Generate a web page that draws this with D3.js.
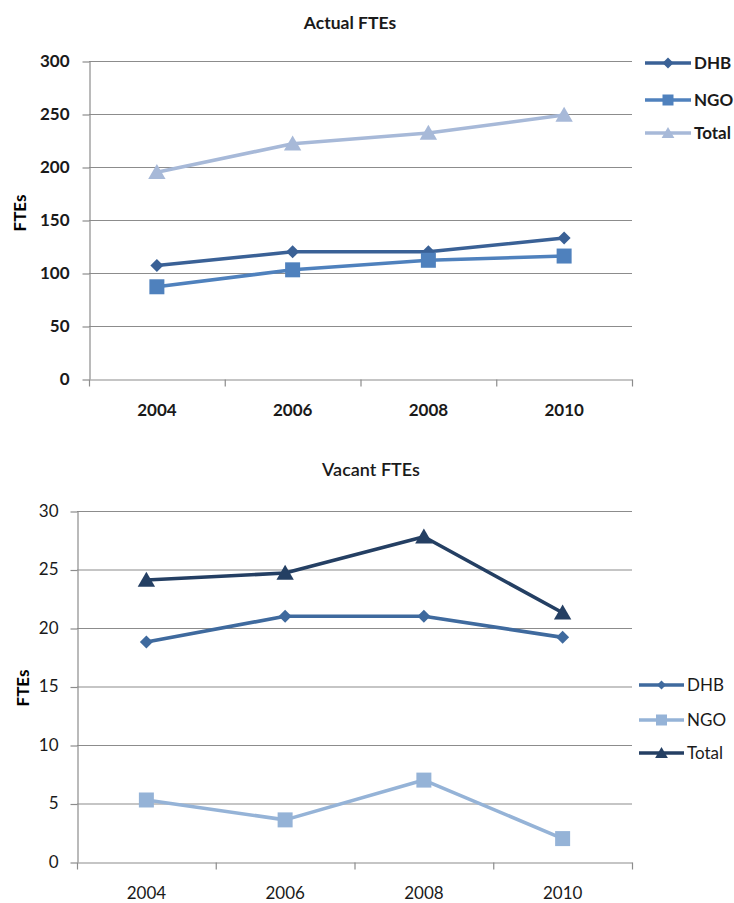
<!DOCTYPE html>
<html>
<head>
<meta charset="utf-8">
<script src="https://cdn.jsdelivr.net/npm/d3@7"></script>
<style>
  html, body { margin: 0; padding: 0; background: #fff; }
  svg { display: block; font-family: Lato, "Open Sans", sans-serif; }
</style>
</head>
<body>
<svg id="chart" width="734" height="903"></svg>
<script>
// Years shown on both charts
const years = ["2004", "2006", "2008", "2010"];

// Actual FTEs
const actualDHB = [107, 120, 120, 133];
const actualNGO = [87, 103, 112, 116];
const actualTotal = [195, 222, 232, 249];
const actualTicks = [0, 50, 100, 150, 200, 250, 300];

// Vacant FTEs
const vacantDHB = [18.8, 21.0, 21.0, 19.2];
const vacantNGO = [5.3, 3.6, 7.0, 2.0];
const vacantTotal = [24.1, 24.7, 27.8, 21.3];
const vacantTicks = [0, 5, 10, 15, 20, 25, 30];

const svg = d3.select("#chart");

function markerPath(shape, size) {
  const s = size;
  if (shape === "diamond") return `M0,${-s / 2}L${s / 2},0L0,${s / 2}L${-s / 2},0Z`;
  if (shape === "square") return `M${-s / 2},${-s / 2}h${s}v${s}h${-s}Z`;
  // triangle
  return `M0,${-s * 0.55}L${s * 0.58},${s * 0.45}L${-s * 0.58},${s * 0.45}Z`;
}

function drawChart(cfg) {
  const g = svg.append("g");
  const x = d3.scaleBand().domain(years).range([cfg.left, cfg.right]).padding(0);
  const y = d3.scaleLinear().domain([0, cfg.ticks[cfg.ticks.length - 1]]).range([cfg.bottom, cfg.top]);

  // gridlines
  g.append("g").selectAll("line").data(cfg.ticks.slice(1)).join("line")
    .attr("x1", cfg.left).attr("x2", cfg.right)
    .attr("y1", d => y(d) + 0.5).attr("y2", d => y(d) + 0.5)
    .attr("stroke", "#8c8c8c").attr("stroke-width", 1.2);

  // y axis
  const yAxis = g.append("g")
    .attr("transform", `translate(${cfg.left + 0.5},0)`)
    .call(d3.axisLeft(y).tickValues(cfg.ticks).tickSize(7).tickPadding(cfg.tickPad).tickSizeOuter(0));
  yAxis.select(".domain").attr("stroke", "#8c8c8c").attr("stroke-width", 1.2);
  yAxis.selectAll(".tick line").attr("stroke", "#8c8c8c").attr("stroke-width", 1.2)
    .attr("transform", "translate(0,0.5)");
  yAxis.selectAll(".tick text")
    .attr("fill", "#1a1a1a").attr("font-size", cfg.fontSize).attr("font-weight", cfg.weight)
    .attr("font-family", "Lato, sans-serif");

  // x axis
  const xAxis = g.append("g")
    .attr("transform", `translate(0,${cfg.bottom + 0.5})`)
    .call(d3.axisBottom(x).tickSize(0).tickPadding(cfg.xPad));
  xAxis.select(".domain").attr("stroke", "#8c8c8c").attr("stroke-width", 1.2);
  xAxis.selectAll(".tick text")
    .attr("fill", "#1a1a1a").attr("font-size", cfg.fontSize).attr("font-weight", cfg.weight)
    .attr("font-family", "Lato, sans-serif");
  // category boundary ticks
  const bounds = years.map(d => x(d)).concat([cfg.right]);
  xAxis.append("g").selectAll("line").data(bounds).join("line")
    .attr("x1", d => d + 0.5).attr("x2", d => d + 0.5).attr("y1", 0).attr("y2", 7)
    .attr("stroke", "#8c8c8c").attr("stroke-width", 1.2);

  const cx = d => x(d) + x.bandwidth() / 2;

  // series
  cfg.series.forEach(s => {
    const line = d3.line().x((d, i) => cx(years[i])).y(d => y(d));
    g.append("path").datum(s.values)
      .attr("d", line).attr("fill", "none")
      .attr("stroke", s.color).attr("stroke-width", 3.6).attr("stroke-linejoin", "round");
    g.append("g").selectAll("path").data(s.values).join("path")
      .attr("transform", (d, i) => `translate(${cx(years[i])},${y(d)})`)
      .attr("d", markerPath(s.shape, s.size))
      .attr("fill", s.color);
  });

  // title
  g.append("text").attr("x", cfg.titleX).attr("y", cfg.titleY)
    .attr("text-anchor", "middle").attr("font-size", cfg.titleSize).attr("font-weight", cfg.titleWeight)
    .attr("fill", "#1a1a1a").text(cfg.title);

  // y axis title
  g.append("text")
    .attr("transform", `translate(${cfg.yTitleX},${cfg.yTitleY}) rotate(-90)`)
    .attr("text-anchor", "middle").attr("font-size", cfg.fontSize).attr("font-weight", "bold")
    .attr("fill", "#000").text("FTEs");

  // legend
  const lg = g.append("g");
  cfg.series.forEach((s, i) => {
    const ly = cfg.legendY[i];
    lg.append("line").attr("x1", cfg.legendX).attr("x2", cfg.legendX + cfg.legendLen)
      .attr("y1", ly).attr("y2", ly).attr("stroke", s.color).attr("stroke-width", 3.6);
    lg.append("path").attr("transform", `translate(${cfg.legendX + cfg.legendLen / 2},${ly})`)
      .attr("d", markerPath(s.shape, s.legendSize)).attr("fill", s.color);
    lg.append("text").attr("x", cfg.legendX + cfg.legendLen + 3).attr("y", ly).attr("dy", "0.36em")
      .attr("font-size", cfg.fontSize).attr("font-weight", cfg.weight)
      .attr("fill", "#1a1a1a").text(s.name);
  });
}

drawChart({
  left: 89, right: 632, top: 61, bottom: 379,
  ticks: actualTicks, fontSize: 17, weight: "bold", tickPad: 13, xPad: 24,
  title: "Actual FTEs", titleX: 350, titleY: 29, titleSize: 17.5, titleWeight: "bold",
  yTitleX: 26, yTitleY: 213,
  legendX: 645, legendLen: 46, legendY: [63, 100, 133],
  series: [
    { name: "DHB", values: actualDHB, color: "#3a6196", shape: "diamond", size: 13, legendSize: 11 },
    { name: "NGO", values: actualNGO, color: "#4f81bd", shape: "square", size: 15, legendSize: 11 },
    { name: "Total", values: actualTotal, color: "#a7b9d8", shape: "triangle", size: 15, legendSize: 11 }
  ]
});

drawChart({
  left: 77, right: 632, top: 511, bottom: 862,
  ticks: vacantTicks, fontSize: 17, weight: "normal", tickPad: 12, xPad: 24,
  title: "Vacant FTEs", titleX: 371, titleY: 476, titleSize: 18, titleWeight: 600,
  yTitleX: 29, yTitleY: 688,
  legendX: 639, legendLen: 45, legendY: [685, 720, 753],
  series: [
    { name: "DHB", values: vacantDHB, color: "#3f6a9e", shape: "diamond", size: 13, legendSize: 9 },
    { name: "NGO", values: vacantNGO, color: "#95b3d7", shape: "square", size: 15, legendSize: 11 },
    { name: "Total", values: vacantTotal, color: "#243f63", shape: "triangle", size: 15, legendSize: 11 }
  ]
});
</script>
</body>
</html>
